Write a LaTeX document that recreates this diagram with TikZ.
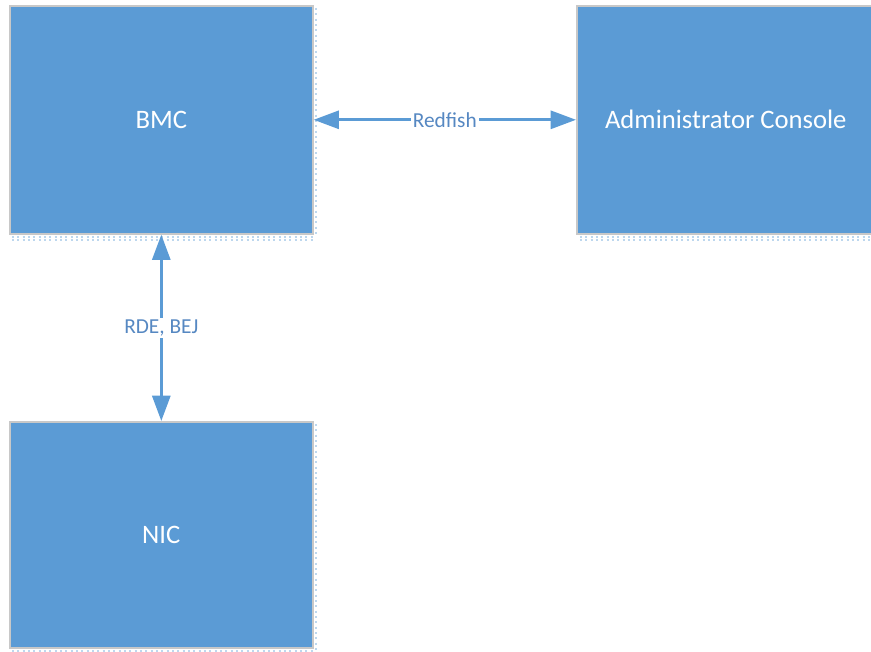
\documentclass[tikz,border=0pt]{standalone}
\usepackage{fontspec}
\setmainfont{Carlito}
\usetikzlibrary{arrows.meta}
\definecolor{boxblue}{HTML}{5B9BD5}
\definecolor{labblue}{HTML}{5688C2}
\definecolor{shadowblue}{HTML}{BDD7EE}
\definecolor{edgegray}{HTML}{C8C8C8}
\begin{document}
\begin{tikzpicture}[x=0.75pt,y=-0.75pt,
  bluebox/.style={fill=boxblue,draw=edgegray,line width=1.2pt,anchor=north west,
    minimum width=303*0.75pt,minimum height=228*0.75pt,inner sep=0pt,
    text=white,font=\fontsize{20}{24}\selectfont},
  shadowline/.style={shadowblue,line width=1.5pt,dash pattern=on 1.5pt off 2.5pt},
  conn/.style={boxblue,line width=2.2pt,{Triangle[length=19pt,width=13.5pt]}-{Triangle[length=19pt,width=13.5pt]}},
  connlabel/.style={fill=white,text=labblue,font=\fontsize{16}{19}\selectfont,inner sep=1.5pt}]
\useasboundingbox (0,0) rectangle (871,652);
% shadows
\draw[shadowline] (316,8) -- (316,237);
\draw[shadowline] (12,237) -- (316,237);
\draw[shadowline] (12,240) -- (316,240);
\draw[shadowline] (580,237) -- (871,237);
\draw[shadowline] (580,240) -- (871,240);
\draw[shadowline] (316,424) -- (316,651);
\draw[shadowline] (12,651) -- (316,651);
\node[bluebox] (bmc) at (9,5) {BMC};
\node[bluebox,minimum width=298*0.75pt] (adm) at (576,5) {Administrator Console};
\node[bluebox,minimum height=226*0.75pt] (nic) at (9,421) {NIC};
\draw[conn] (bmc.east) -- node[connlabel] {Redfish} (adm.west);
\draw[conn] (bmc.south) -- node[connlabel,pos=0.5] {RDE, BEJ} (nic.north);
\end{tikzpicture}
\end{document}
